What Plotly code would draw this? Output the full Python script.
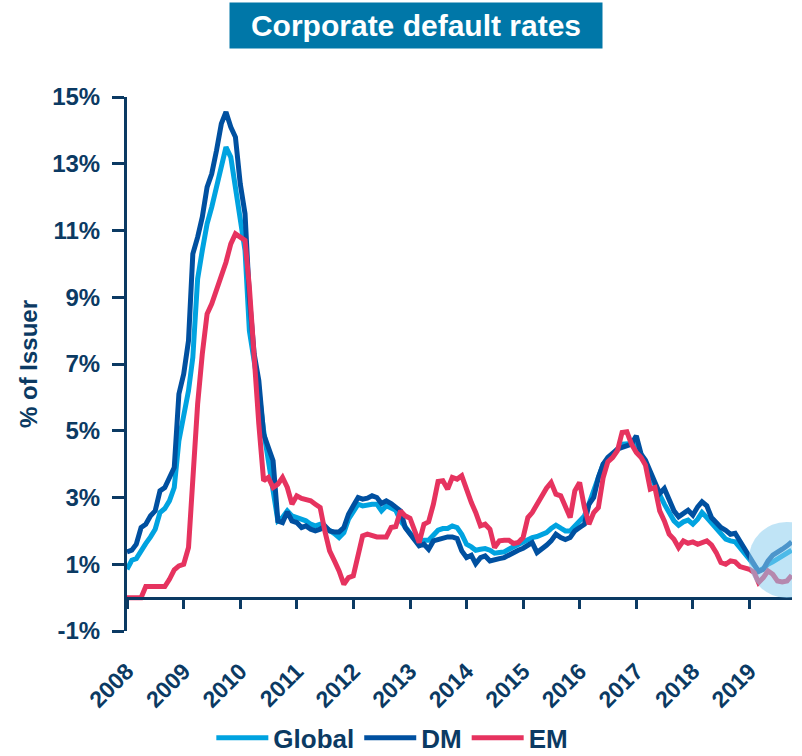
import pandas as pd
import plotly.graph_objects as go

# Monthly data, Jan 2008 - Oct 2019 (% of issuers)
dates = pd.date_range("2008-01-01", periods=142, freq="MS")

global_rate = [
    0.85, 1.12, 1.17, 1.42, 1.62, 1.82, 2.05, 2.55, 2.67, 2.90, 3.30, 4.70,
    5.55, 6.20, 7.20, 9.55, 10.40, 11.20, 11.70, 12.30, 13.00, 13.50, 13.20, 12.30,
    11.20, 10.40, 8.00, 7.10, 6.20, 5.00, 4.10, 3.30, 2.30, 2.40, 2.60, 2.45,
    2.40, 2.35, 2.30, 2.20, 2.15, 2.20, 2.12, 2.00, 1.92, 1.80, 1.95, 2.35,
    2.60, 2.80, 2.75, 2.78, 2.80, 2.80, 2.60, 2.75, 2.70, 2.62, 2.30, 2.10,
    1.90, 1.75, 1.68, 1.72, 1.72, 1.85, 2.02, 2.07, 2.07, 2.15, 2.10, 1.90,
    1.60, 1.52, 1.42, 1.45, 1.47, 1.42, 1.33, 1.35, 1.37, 1.45, 1.52, 1.60,
    1.68, 1.75, 1.80, 1.83, 1.87, 1.95, 2.07, 2.17, 2.08, 2.00, 2.00, 2.15,
    2.30, 2.45, 2.80, 3.20, 3.60, 4.00, 4.10, 4.30, 4.45, 4.60, 4.62, 4.62,
    4.55, 4.30, 4.05, 3.65, 3.35, 3.05, 2.80, 2.55, 2.30, 2.17, 2.27, 2.32,
    2.20, 2.35, 2.55, 2.40, 2.25, 2.05, 1.90, 1.75, 1.70, 1.67, 1.50, 1.35,
    1.15, 0.97, 0.80, 0.87, 1.00, 1.07, 1.15, 1.25, 1.30, 1.42,
]

dm_rate = [
    1.37, 1.42, 1.60, 2.10, 2.20, 2.45, 2.60, 3.20, 3.30, 3.60, 3.90, 6.10,
    6.70, 7.70, 10.30, 10.80, 11.40, 12.30, 12.70, 13.40, 14.20, 14.55, 14.10, 13.80,
    12.40, 11.50, 9.00, 7.30, 6.50, 4.90, 4.50, 4.10, 2.30, 2.25, 2.57, 2.30,
    2.25, 2.10, 2.15, 2.05, 2.00, 2.05, 2.15, 2.00, 1.97, 1.97, 2.10, 2.50,
    2.75, 3.00, 2.95, 2.98, 3.05, 3.00, 2.82, 2.90, 2.82, 2.70, 2.60, 2.10,
    1.90, 1.70, 1.55, 1.60, 1.45, 1.70, 1.75, 1.77, 1.82, 1.82, 1.77, 1.40,
    1.20, 1.27, 1.02, 1.20, 1.25, 1.10, 1.12, 1.17, 1.20, 1.28, 1.37, 1.42,
    1.48, 1.55, 1.65, 1.35, 1.45, 1.57, 1.70, 1.90, 1.80, 1.74, 1.80, 2.00,
    2.10, 2.20, 2.80, 3.00, 3.60, 4.00, 4.20, 4.32, 4.45, 4.50, 4.55, 4.60,
    4.85, 4.30, 4.12, 3.80, 3.40, 3.12, 3.27, 2.90, 2.60, 2.42, 2.52, 2.62,
    2.47, 2.72, 2.87, 2.75, 2.40, 2.25, 2.10, 2.02, 1.90, 1.93, 1.70, 1.45,
    1.25, 1.05, 0.78, 0.85, 1.10, 1.27, 1.38, 1.45, 1.55, 1.67,
]

em_rate = [
    0.00, 0.00, 0.00, 0.00, 0.33, 0.33, 0.33, 0.33, 0.33, 0.55, 0.83, 0.95,
    1.00, 1.50, 3.50, 5.80, 7.30, 8.50, 8.80, 9.20, 9.60, 10.05, 10.60, 10.90,
    10.80, 10.70, 9.30, 7.00, 5.20, 3.50, 3.60, 3.30, 3.40, 3.60, 3.30, 2.80,
    3.05, 2.97, 2.95, 2.90, 2.80, 2.70, 2.00, 1.40, 1.10, 0.80, 0.40, 0.60,
    0.65, 1.20, 1.85, 1.90, 1.85, 1.82, 1.82, 1.82, 2.10, 2.13, 2.60, 2.45,
    2.38, 2.00, 1.65, 2.20, 2.27, 2.80, 3.48, 3.50, 3.25, 3.60, 3.55, 3.65,
    3.20, 2.85, 2.55, 2.15, 2.20, 2.05, 1.50, 1.70, 1.72, 1.72, 1.62, 1.65,
    1.80, 2.40, 2.55, 2.80, 3.10, 3.28, 3.45, 3.10, 3.05, 2.75, 2.40, 3.20,
    3.45, 2.70, 2.20, 2.55, 2.70, 3.60, 4.07, 4.20, 4.40, 4.95, 4.97, 4.60,
    4.35, 4.20, 3.97, 3.25, 3.30, 2.60, 2.30, 1.90, 1.75, 1.50, 1.70, 1.63,
    1.67, 1.60, 1.65, 1.70, 1.58, 1.35, 1.05, 1.00, 1.10, 1.07, 0.93, 0.88,
    0.85, 0.75, 0.45, 0.60, 0.80, 0.70, 0.50, 0.47, 0.50, 0.67,
]

y_ticks = [-1, 1, 3, 5, 7, 9, 11, 13, 15]
y_tick_labels = [f"{v}%" for v in y_ticks]

NAVY = "#0B3A63"
FONT = "Liberation Sans, Arial, sans-serif"

fig = go.Figure()
series = [
    ("Global", global_rate, "#00A3E0"),
    ("DM", dm_rate, "#0050A0"),
    ("EM", em_rate, "#E6335F"),
]
for name, vals, col in series:
    fig.add_trace(go.Scatter(x=dates, y=vals, name=name, mode="lines",
                             line=dict(color=col, width=5)))

fig.update_layout(
    width=802, height=756,
    paper_bgcolor="white", plot_bgcolor="white",
    margin=dict(l=127, r=10, t=97, b=125, autoexpand=False),
    font=dict(family=FONT, color=NAVY, size=24),
    showlegend=True,
    legend=dict(orientation="h", x=0.399, xanchor="center", y=-0.200, yanchor="middle",
                font=dict(size=26, color=NAVY, weight=700), itemwidth=52,
                tracegroupgap=0, bgcolor="rgba(0,0,0,0)"),
    xaxis=dict(
        type="date", range=["2008-01-01", "2019-10-03"],
        anchor="free", position=0.0625, automargin=False,
        showline=True, linecolor=NAVY, linewidth=3,
        ticks="outside", ticklen=9, tickwidth=3, tickcolor=NAVY,
        tick0="2008-01-01", dtick="M12", tickformat="%Y",
        tickangle=-45, ticklabelstandoff=40,
        tickfont=dict(size=23, color=NAVY, weight=700),
        showgrid=False, zeroline=False,
    ),
    yaxis=dict(
        range=[-1, 15], tickvals=y_ticks, ticktext=y_tick_labels, automargin=False,
        showline=True, linecolor=NAVY, linewidth=3,
        ticks="outside", ticklen=12, tickwidth=3, tickcolor=NAVY,
        ticklabelstandoff=7,
        tickfont=dict(size=24, color=NAVY, weight=700),
        showgrid=False, zeroline=False,
        title=dict(text="% of Issuer", standoff=8,
                   font=dict(size=24, color=NAVY, weight=700)),
    ),
)

fig.add_annotation(
    text="<b>Corporate default rates</b>", xref="paper", yref="paper",
    x=0.4346, y=1.133, xanchor="center", yanchor="middle", showarrow=False,
    font=dict(size=30, color="white", family=FONT),
    bgcolor="#0077A8", width=370, height=43,
)

# highlight circle around the latest readings
fig.add_shape(
    type="circle", xref="x", yref="y", xsizemode="pixel", ysizemode="pixel",
    xanchor=dates[141], yanchor=1.13, x0=-43, x1=33, y0=-38, y1=38,
    fillcolor="rgba(140,205,238,0.55)", line=dict(width=0), layer="above",
)

fig.write_html(
    "out.html",
    config={"displayModeBar": False},
    post_script="document.body.style.margin='0';document.body.style.overflow='hidden';",
)
